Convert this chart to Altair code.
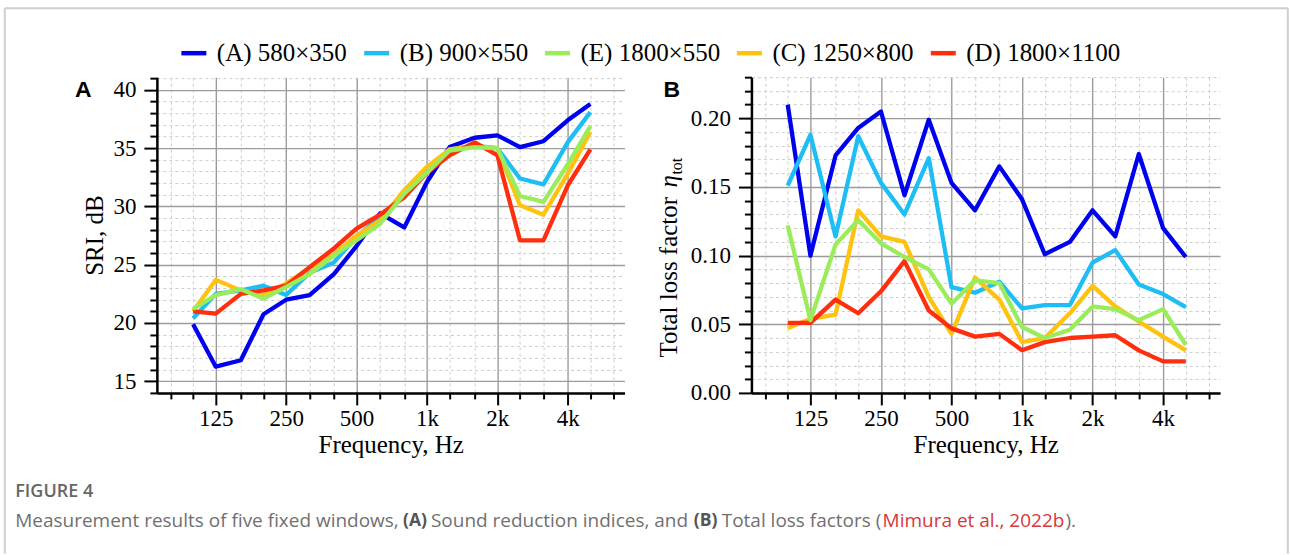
import altair as alt
import pandas as pd

# ---------------- data ----------------
freqs = [100, 125, 160, 200, 250, 315, 400, 500, 630, 800,
         1000, 1250, 1600, 2000, 2500, 3150, 4000, 5000]

series_names = ["(A) 580×350", "(B) 900×550", "(E) 1800×550", "(C) 1250×800", "(D) 1800×1100"]
series_colors = ["#0000f0", "#1ebef5", "#9bec5a", "#ffc20e", "#ff2e0e"]
draw_order = ["(A) 580×350", "(B) 900×550", "(C) 1250×800", "(D) 1800×1100", "(E) 1800×550"]

# Panel A: sound reduction index, dB
sri_A = [19.9, 16.25, 16.8, 20.75, 22.0, 22.4, 24.2, 26.6, 29.4, 28.2, 32.1, 35.1, 35.9, 36.1, 35.1, 35.6, 37.4, 38.8]
sri_B = [20.4, 22.5, 22.8, 23.2, 22.4, 24.3, 25.2, 27.4, 29.1, 31.1, 32.9, 34.9, 35.2, 35.0, 32.4, 31.9, 35.5, 38.1]
sri_E = [21.2, 22.4, 22.9, 22.1, 23.1, 24.2, 25.8, 27.1, 28.5, 31.1, 32.9, 34.8, 35.1, 35.0, 30.9, 30.4, 33.6, 36.9]
sri_C = [21.0, 23.7, 22.8, 22.4, 23.4, 24.7, 25.9, 27.5, 28.8, 31.4, 33.4, 34.9, 35.2, 35.0, 30.1, 29.3, 32.8, 36.4]
sri_D = [21.0, 20.8, 22.5, 22.8, 23.2, 24.8, 26.4, 28.1, 29.3, 30.8, 32.9, 34.4, 35.5, 34.4, 27.1, 27.1, 31.8, 34.9]

# Panel B: total loss factor
eta_A = [0.210, 0.100, 0.173, 0.193, 0.205, 0.144, 0.199, 0.153, 0.133, 0.165, 0.141, 0.101, 0.110, 0.133, 0.114, 0.174, 0.120, 0.099]
eta_B = [0.151, 0.188, 0.114, 0.187, 0.153, 0.130, 0.171, 0.077, 0.073, 0.081, 0.0615, 0.064, 0.064, 0.095, 0.104, 0.079, 0.072, 0.0625]
eta_E = [0.122, 0.053, 0.108, 0.126, 0.109, 0.099, 0.090, 0.065, 0.082, 0.080, 0.048, 0.040, 0.046, 0.063, 0.061, 0.053, 0.061, 0.035]
eta_C = [0.047, 0.054, 0.057, 0.133, 0.114, 0.110, 0.070, 0.043, 0.084, 0.068, 0.037, 0.040, 0.058, 0.078, 0.063, 0.052, 0.041, 0.031]
eta_D = [0.051, 0.051, 0.068, 0.058, 0.074, 0.096, 0.060, 0.047, 0.041, 0.043, 0.031, 0.037, 0.040, 0.041, 0.042, 0.031, 0.023, 0.023]

# axis ticks
band_ticks = [80, 100, 125, 160, 200, 250, 315, 400, 500, 630, 800,
              1000, 1250, 1600, 2000, 2500, 3150, 4000, 5000, 6300]
major_x = [125, 250, 500, 1000, 2000, 4000]
major_x_labels = ["125", "250", "500", "1k", "2k", "4k"]
ticks_A = list(range(14, 42))
ticks_B = [round(i * 0.01, 2) for i in range(0, 24)]

sri = {"(A) 580×350": sri_A, "(B) 900×550": sri_B, "(E) 1800×550": sri_E,
       "(C) 1250×800": sri_C, "(D) 1800×1100": sri_D}
eta = {"(A) 580×350": eta_A, "(B) 900×550": eta_B, "(E) 1800×550": eta_E,
       "(C) 1250×800": eta_C, "(D) 1800×1100": eta_D}

rows_A, rows_B = [], []
for s in draw_order:
    for f, v in zip(freqs, sri[s]):
        rows_A.append({"freq": f, "series": s, "value": v})
    for f, v in zip(freqs, eta[s]):
        rows_B.append({"freq": f, "series": s, "value": v})
df_A = pd.DataFrame(rows_A)
df_B = pd.DataFrame(rows_B)

# ---------------- layout constants ----------------
PAGE_W, PAGE_H = 1290, 555
OX, OY = 156.7, 76.5          # panel A plot origin on page
PA_W, PA_H = 468, 316
PB_W = 469
GAP = 127                      # between plot areas
OXB = OX + PA_W + GAP

SERIF = "Liberation Serif"
SANS = "Liberation Sans"

# ---------------- axes ----------------
x_major_test = "indexof([" + ",".join(str(v) for v in major_x) + "], datum.value) >= 0"
x_label_expr = " : ".join(f"datum.value == {v} ? '{l}'" for v, l in zip(major_x, major_x_labels)) + " : ''"


def cond(test, a, b):
    return {"condition": {"test": test, "value": a}, "value": b}


def make_axis(values, test, tick_major, tick_minor, **kw):
    return alt.Axis(
        values=values,
        tickSize=cond(test, tick_major, tick_minor),
        gridDash=cond(test, [], [3, 3]),
        gridColor=cond(test, "#9c9c9c", "#cdcdcd"),
        gridWidth=cond(test, 1.4, 1.0),
        grid=True,
        domainColor="black", domainWidth=2.5,
        tickColor="black", tickWidth=2,
        labelFont=SERIF, labelFontSize=23, labelColor="black",
        titleFont=SERIF, titleFontSize=25, titleFontWeight="normal", titleColor="black",
        labelOverlap=False, labelFlush=False, labelBound=False,
        **kw,
    )


x_axis_A = make_axis(band_ticks, x_major_test, 12, 6, labelExpr=x_label_expr, labelPadding=3,
                     title="Frequency, Hz", titleX=PA_W / 2, titleY=52, titleBaseline="middle",
                     titleAlign="center")
x_axis_B = make_axis(band_ticks, x_major_test, 12, 6, labelExpr=x_label_expr, labelPadding=3,
                     title="Frequency, Hz", titleX=PB_W / 2, titleY=52, titleBaseline="middle",
                     titleAlign="center")
yA_test = "datum.value % 5 == 0"
y_axis_A = make_axis(ticks_A, yA_test, 13, 7, format="d",
                     labelExpr="datum.value % 5 == 0 ? datum.label : ''", labelPadding=8,
                     title="SRI, dB", titleX=-62, titleY=PA_H / 2, titleAngle=270,
                     titleBaseline="middle", titleAlign="center")
yB_test = "abs(datum.value * 20 - round(datum.value * 20)) < 1e-6"
y_axis_B = make_axis(ticks_B, yB_test, 13, 7, format=".2f",
                     labelExpr="abs(datum.value * 20 - round(datum.value * 20)) < 1e-6 ? datum.label : ''",
                     labelPadding=8, title=None)

legend = alt.Legend(
    title=None, orient="none", legendX=22, legendY=-39, direction="horizontal",
    symbolType="stroke", symbolStrokeWidth=4.5, symbolSize=625,
    labelFont=SERIF, labelFontSize=25, labelColor="black", labelOffset=8,
    columnPadding=7, padding=0, labelLimit=400,
)
color = alt.Color("series:N", scale=alt.Scale(domain=series_names, range=series_colors), legend=legend)

lines_A = alt.Chart(df_A).mark_line(strokeWidth=4.3, strokeJoin="round", strokeCap="butt", clip=True).encode(
    x=alt.X("freq:Q", scale=alt.Scale(type="log", domain=[70, 7000], nice=False), axis=x_axis_A),
    y=alt.Y("value:Q", scale=alt.Scale(domain=[14, 41.1], nice=False, zero=False), axis=y_axis_A),
    color=color,
    detail="series:N",
)
lines_B = alt.Chart(df_B).mark_line(strokeWidth=4.3, strokeJoin="round", strokeCap="butt", clip=True).encode(
    x=alt.X("freq:Q", scale=alt.Scale(type="log", domain=[70, 7000], nice=False), axis=x_axis_B),
    y=alt.Y("value:Q", scale=alt.Scale(domain=[0, 0.23], nice=False, zero=True), axis=y_axis_B),
    color=color,
    detail="series:N",
)

one = alt.Data(values=[{"k": 1}])

# page frame (sets the chart bounds to exactly the page) and its light border
page_rect = alt.Chart(one).mark_rect(fill="white", fillOpacity=0, strokeOpacity=0).encode(
    x=alt.value(-OX), x2=alt.value(PAGE_W - OX), y=alt.value(-OY), y2=alt.value(PAGE_H - OY))
BCOL = "#cfcfcf"
bl = alt.Chart(one).mark_rule(color=BCOL, strokeWidth=2).encode(
    x=alt.value(4.5 - OX), y=alt.value(7.5 - OY), y2=alt.value(PAGE_H - 1.5 - OY))
bt = alt.Chart(one).mark_rule(color=BCOL, strokeWidth=2).encode(
    x=alt.value(4.5 - OX), x2=alt.value(1288.5 - OX), y=alt.value(7.5 - OY))
br = alt.Chart(one).mark_rule(color=BCOL, strokeWidth=2).encode(
    x=alt.value(1288.5 - OX), y=alt.value(7.5 - OY), y2=alt.value(PAGE_H - 1.5 - OY))


def txt(s, px, py, **kw):
    base = dict(align="left", baseline="middle")
    base.update(kw)
    return alt.Chart(one).mark_text(text=s, **base).encode(x=alt.value(px), y=alt.value(py))


CAP_FONT = "Open Sans"
CAP_GRAY = "#707070"
CAP_SIZE = 19
cap_y = 521 - OY
caption = [
    txt("FIGURE 4", 15 - OX, 492 - OY, font=CAP_FONT, fontSize=18, fontWeight=600, color="#666666"),
    txt("Measurement results of five fixed windows,", 15 - OX, cap_y, font=CAP_FONT, fontSize=CAP_SIZE, color=CAP_GRAY),
    txt("(A)", 403 - OX, cap_y, font=CAP_FONT, fontSize=17.5, fontWeight="bold", color="#555555"),
    txt("Sound reduction indices, and", 431 - OX, cap_y, font=CAP_FONT, fontSize=CAP_SIZE, color=CAP_GRAY),
    txt("(B)", 694 - OX, cap_y, font=CAP_FONT, fontSize=17.5, fontWeight="bold", color="#555555"),
    txt("Total loss factors (", 722 - OX, cap_y, font=CAP_FONT, fontSize=CAP_SIZE, color=CAP_GRAY),
    txt("Mimura et al., 2022b", 883 - OX, cap_y, font=CAP_FONT, fontSize=CAP_SIZE, color="#d7363c"),
    txt(").", 1066 - OX, cap_y, font=CAP_FONT, fontSize=CAP_SIZE, color=CAP_GRAY),
]

label_A = txt("A", 83 - OX, 89.5 - OY, font=SANS, fontSize=23, fontWeight="bold", color="black", align="center")
label_B = txt("B", 672 - OXB, 89.5 - OY, font=SANS, fontSize=23, fontWeight="bold", color="black", align="center")

# y title of panel B with Greek eta and subscript
tb_x = 669 - OXB
tb_y0 = 357 - OY
title_B = [
    txt("Total loss factor", tb_x, tb_y0, font=SERIF, fontSize=25, color="black", angle=270),
    txt("η", tb_x, tb_y0 - 170, font=SERIF, fontSize=25, fontStyle="italic", color="black", angle=270),
    txt("tot", tb_x + 8, tb_y0 - 183, font=SERIF, fontSize=16, color="black", angle=270),
]

panel_A = alt.layer(page_rect, bl, bt, br, *caption, label_A, lines_A).properties(width=PA_W, height=PA_H)
panel_B = alt.layer(label_B, *title_B, lines_B).properties(width=PB_W, height=PA_H)

chart = alt.hconcat(panel_A, panel_B, spacing=GAP, bounds="flush").resolve_scale(
    x="independent", y="independent", color="shared"
).resolve_legend(color="shared").properties(
    padding=0, background="white"
).configure_view(stroke=None)

chart.save("out.html", embed_options={"renderer": "svg", "actions": False})
